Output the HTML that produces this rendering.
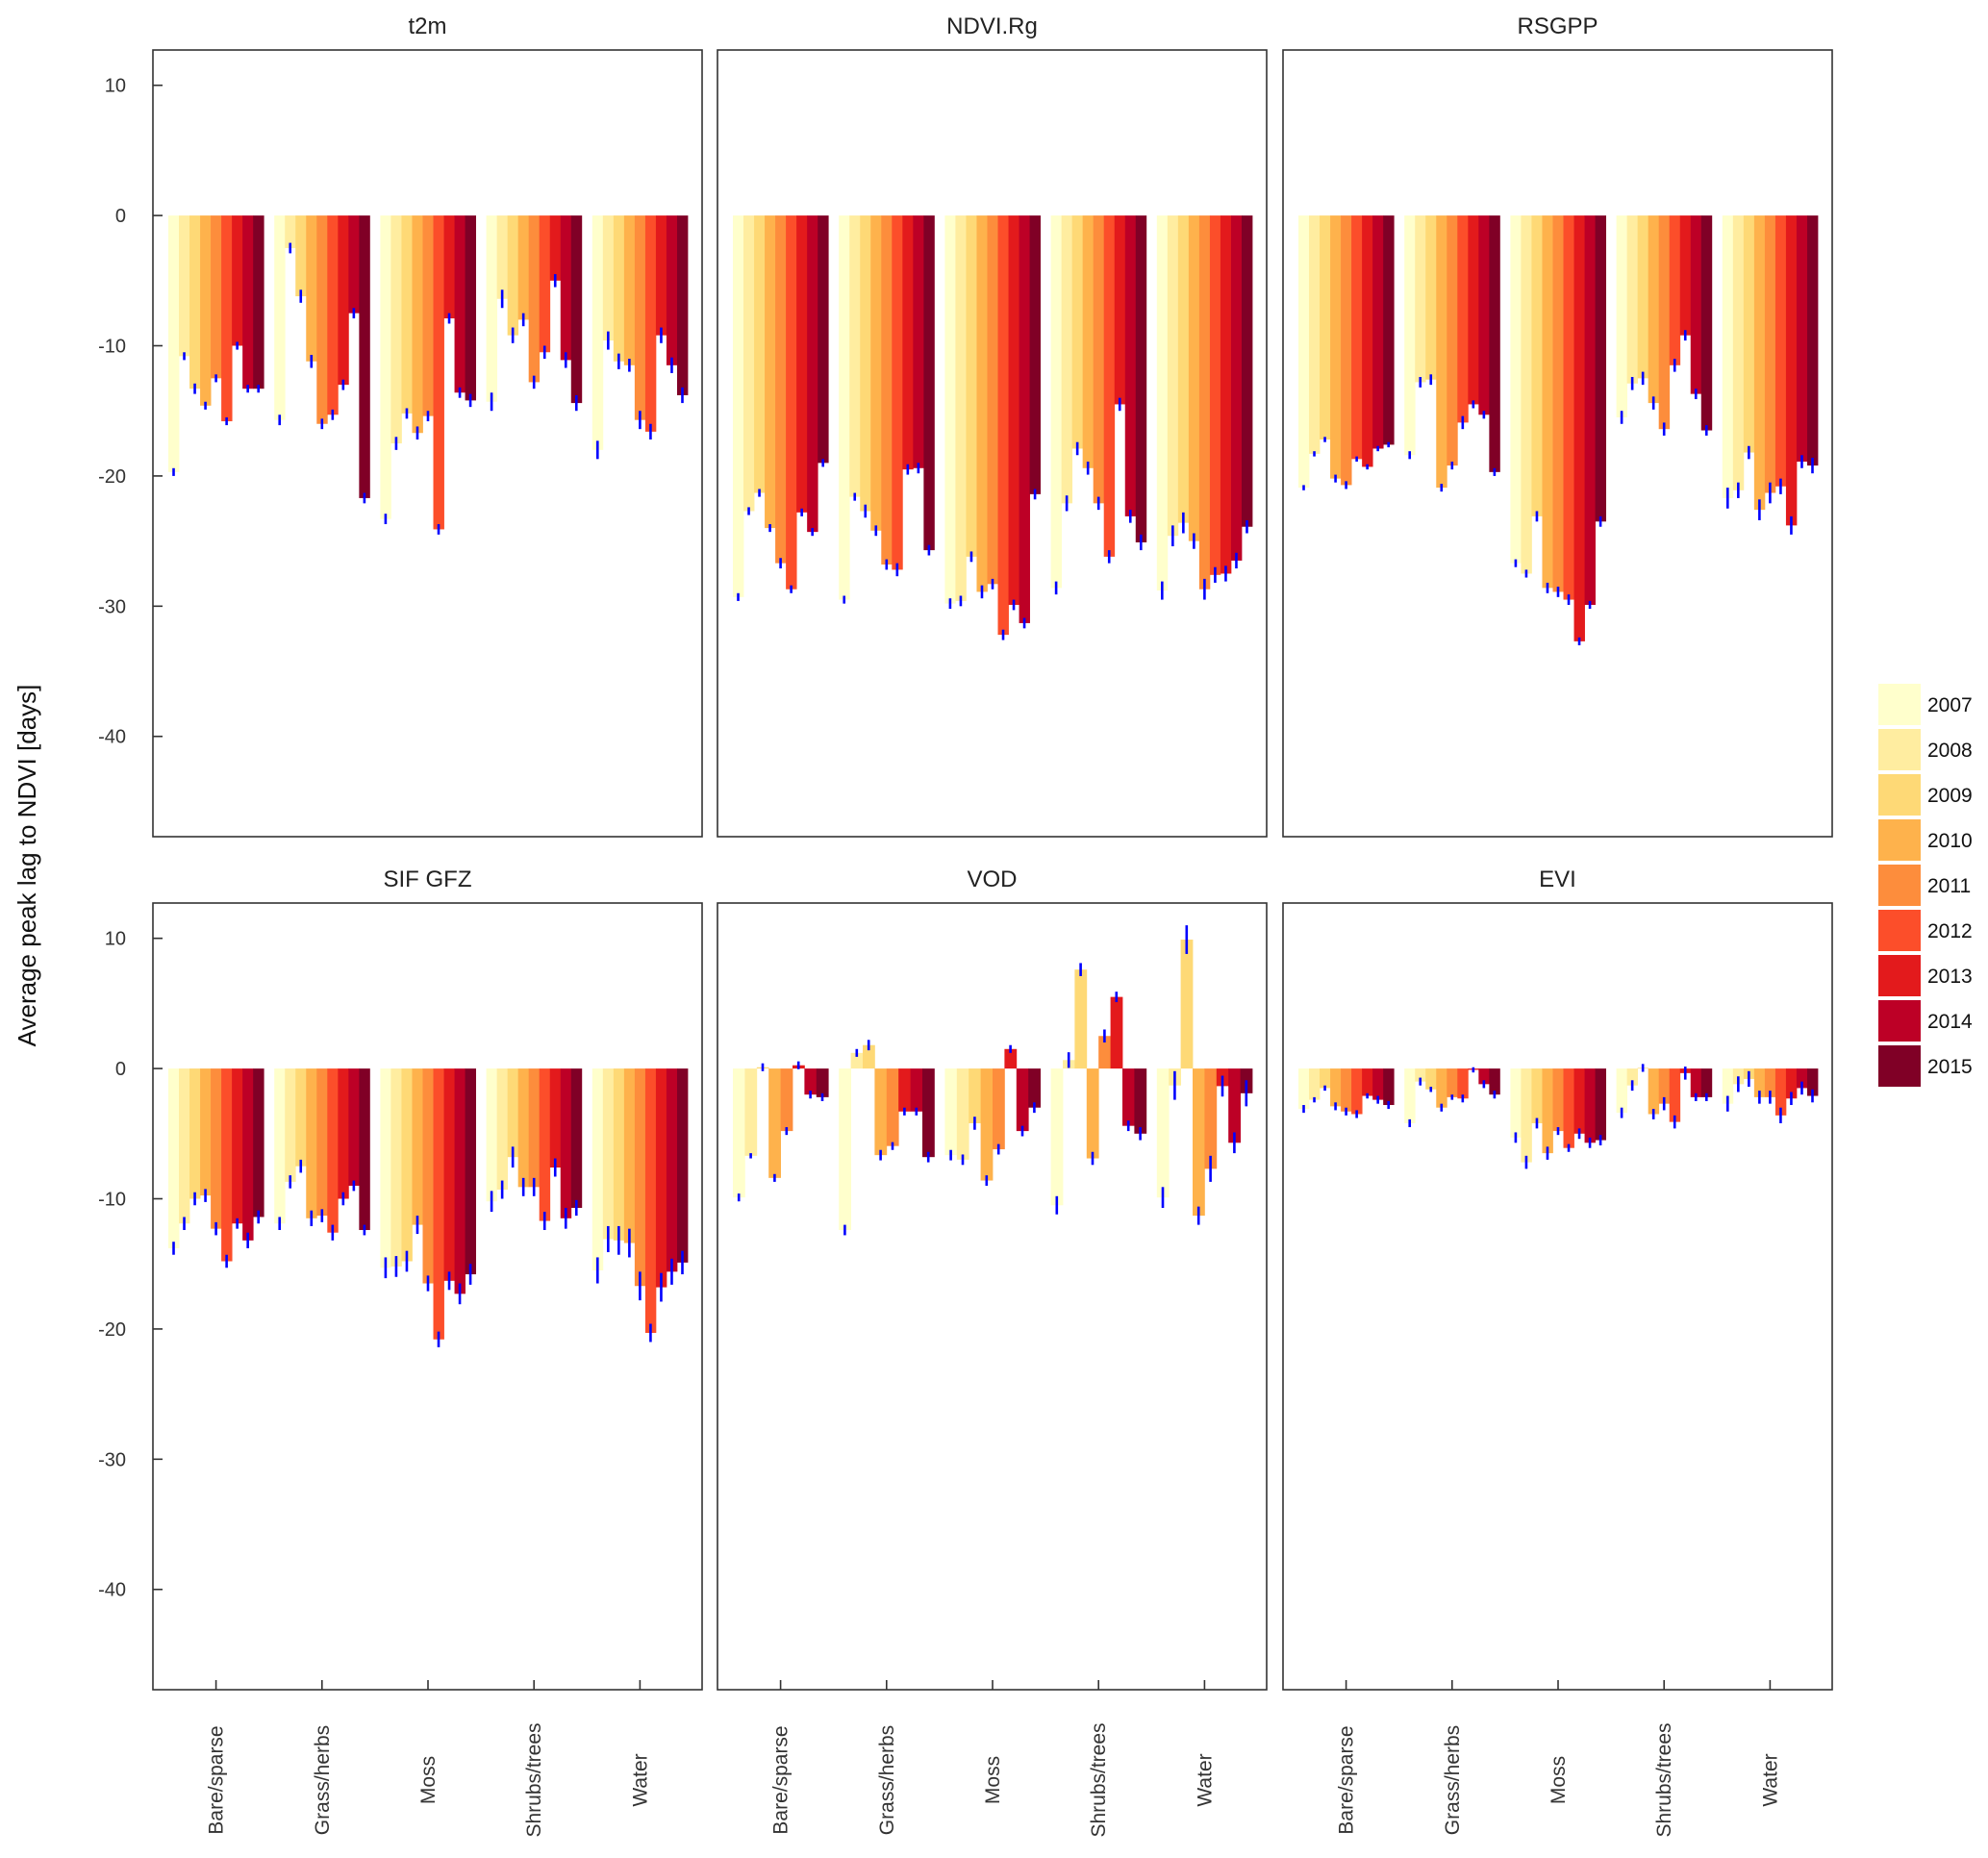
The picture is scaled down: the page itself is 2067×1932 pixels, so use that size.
<!DOCTYPE html>
<html><head><meta charset="utf-8"><style>
html,body{margin:0;padding:0;background:#fff;}
svg{display:block;font-family:"Liberation Sans",Arial,sans-serif;}
</style></head><body>
<svg id="chart" width="2067" height="1932" viewBox="0 0 2067 1932" xmlns="http://www.w3.org/2000/svg"></svg>
<script>
const categories = ["Bare/sparse","Grass/herbs","Moss","Shrubs/trees","Water"];
const years = ["2007","2008","2009","2010","2011","2012","2013","2014","2015"];
const yTicks = [10,0,-10,-20,-30,-40];
const panelTitles = ["t2m","NDVI.Rg","RSGPP","SIF GFZ","VOD","EVI"];

const t2mVals = [-19.7,-10.8,-13.3,-14.6,-12.5,-15.8,-10.0,-13.3,-13.3,
 -15.7,-2.5,-6.2,-11.2,-16.0,-15.3,-13.0,-7.5,-21.7,
 -23.3,-17.5,-15.2,-16.7,-15.4,-24.1,-7.9,-13.6,-14.2,
 -14.3,-6.4,-9.2,-8.0,-12.8,-10.5,-5.0,-11.1,-14.4,
 -18.0,-9.6,-11.2,-11.5,-15.7,-16.6,-9.2,-11.5,-13.8];
const t2mErr = [0.3,0.3,0.4,0.3,0.3,0.3,0.3,0.3,0.3, 0.4,0.4,0.5,0.5,0.4,0.4,0.4,0.4,0.4,
 0.4,0.5,0.4,0.5,0.4,0.4,0.4,0.4,0.5, 0.7,0.7,0.6,0.5,0.5,0.5,0.5,0.6,0.6,
 0.7,0.7,0.6,0.5,0.7,0.6,0.6,0.6,0.6];

const ndviVals = [-29.3,-22.7,-21.3,-24.0,-26.7,-28.7,-22.8,-24.3,-19.0,
 -29.5,-21.6,-22.7,-24.2,-26.8,-27.2,-19.5,-19.4,-25.7,
 -29.8,-29.6,-26.2,-28.9,-28.3,-32.2,-29.9,-31.3,-21.4,
 -28.6,-22.1,-17.9,-19.4,-22.1,-26.2,-14.5,-23.1,-25.1,
 -28.8,-24.6,-23.6,-25.0,-28.7,-27.6,-27.5,-26.5,-23.9];
const ndviErr = [0.3,0.3,0.3,0.3,0.4,0.3,0.3,0.3,0.3, 0.3,0.3,0.5,0.4,0.4,0.5,0.4,0.4,0.4,
 0.4,0.4,0.4,0.5,0.4,0.4,0.4,0.4,0.4, 0.5,0.6,0.5,0.5,0.5,0.5,0.5,0.5,0.6,
 0.7,0.8,0.8,0.6,0.8,0.6,0.6,0.6,0.5];

const rsgppVals = [-20.9,-18.3,-17.2,-20.2,-20.7,-18.7,-19.3,-17.9,-17.6,
 -18.4,-12.8,-12.6,-20.9,-19.2,-15.9,-14.5,-15.3,-19.7,
 -26.7,-27.5,-23.1,-28.6,-28.9,-29.5,-32.7,-29.9,-23.5,
 -15.5,-12.9,-12.5,-14.4,-16.4,-11.5,-9.2,-13.7,-16.5,
 -21.7,-21.1,-18.2,-22.6,-21.3,-20.8,-23.8,-18.9,-19.2];
const rsgppErr = [0.2,0.2,0.2,0.3,0.3,0.2,0.2,0.2,0.2, 0.3,0.4,0.4,0.3,0.3,0.5,0.3,0.3,0.3,
 0.3,0.3,0.4,0.4,0.4,0.4,0.3,0.3,0.4, 0.5,0.5,0.5,0.5,0.5,0.5,0.4,0.4,0.4,
 0.8,0.6,0.5,0.8,0.8,0.6,0.7,0.5,0.6];

const sifVals = [-13.8,-11.9,-10.0,-9.75,-12.3,-14.8,-11.9,-13.2,-11.4,
 -11.9,-8.7,-7.5,-11.5,-11.3,-12.6,-10.0,-9.0,-12.4,
 -15.3,-15.2,-14.8,-12.0,-16.5,-20.8,-16.3,-17.3,-15.8,
 -10.2,-9.3,-6.8,-9.1,-9.1,-11.7,-7.6,-11.5,-10.7,
 -15.5,-13.1,-13.2,-13.4,-16.7,-20.3,-16.8,-15.6,-14.9];
const sifErr = [0.5,0.5,0.5,0.5,0.5,0.5,0.4,0.6,0.5, 0.5,0.5,0.5,0.6,0.5,0.6,0.5,0.4,0.4,
 0.8,0.8,0.8,0.7,0.6,0.6,0.7,0.8,0.8, 0.8,0.7,0.8,0.7,0.7,0.7,0.7,0.8,0.6,
 1.0,1.0,1.1,1.1,1.1,0.7,1.1,1.0,0.9];

const vodVals = [-9.9,-6.7,0.1,-8.4,-4.8,0.25,-2.0,-2.2,
 -12.4,1.2,1.8,-6.65,-5.95,-3.3,-3.3,-6.8,
 -6.65,-7.0,-4.2,-8.6,-6.2,1.5,-4.8,-3.0,
 -10.5,0.65,7.6,-6.9,2.5,5.5,-4.4,-5.0,
 -9.9,-1.3,9.9,-11.3,-7.7,-1.35,-5.7,-1.9];
const vodErr = [0.3,0.2,0.3,0.3,0.3,0.3,0.3,0.3, 0.4,0.3,0.4,0.4,0.3,0.3,0.3,0.4,
 0.4,0.4,0.5,0.4,0.4,0.3,0.4,0.4, 0.7,0.6,0.5,0.5,0.5,0.4,0.4,0.5,
 0.8,1.1,1.1,0.7,1.0,0.8,0.8,1.0];

const eviVals = [-3.1,-2.4,-1.5,-2.9,-3.3,-3.5,-2.1,-2.4,-2.8,
 -4.2,-1.0,-1.6,-3.0,-2.2,-2.3,-0.1,-1.2,-2.0,
 -5.3,-7.2,-4.2,-6.5,-4.8,-6.1,-5.0,-5.7,-5.5,
 -3.4,-1.3,0.05,-3.5,-2.7,-4.1,-0.35,-2.2,-2.2,
 -2.7,-1.2,-0.8,-2.2,-2.2,-3.6,-2.3,-1.5,-2.1];
const eviErr = [0.3,0.2,0.2,0.3,0.3,0.3,0.2,0.3,0.3, 0.3,0.3,0.2,0.3,0.2,0.3,0.2,0.3,0.3,
 0.4,0.5,0.4,0.5,0.3,0.3,0.4,0.4,0.4, 0.4,0.4,0.3,0.4,0.5,0.5,0.5,0.3,0.3,
 0.6,0.6,0.6,0.5,0.5,0.6,0.5,0.5,0.5];

const colors9 = ["#ffffcc","#ffeda0","#fed976","#feb24c","#fd8d3c","#fc4e2a","#e31a1c","#bd0026","#800026"];
const colors8 = ["#ffffcc","#ffeda0","#fed976","#feb24c","#fd8d3c","#e31a1c","#bd0026","#800026"];

const panelVals = [t2mVals,ndviVals,rsgppVals,sifVals,vodVals,eviVals];
const panelErrs = [t2mErr,ndviErr,rsgppErr,sifErr,vodErr,eviErr];

const NS = "http://www.w3.org/2000/svg";
const svg = document.getElementById("chart");
function mk(tag, attrs, parent){
  const e = document.createElementNS(NS, tag);
  for (const k in attrs) e.setAttribute(k, attrs[k]);
  (parent||svg).appendChild(e);
  return e;
}
const PX = [159, 746, 1334], PW = 571;
const PY = [52, 939], PH = 818;
const YMAX = 12.71, YMIN = -47.7;
function yScale(v, row){ return PY[row] + (YMAX - v) / (YMAX - YMIN) * PH; }
const G0 = 16, GSTEP = 110.2, GW = 99.2;
function xGroup(g){ return G0 + g * GSTEP; }

for (let p = 0; p < 6; p++){
  const row = Math.floor(p/3), col = p%3;
  const x0 = PX[col], y0 = PY[row];
  const g = mk("g", {});
  
  
  const t = mk("text", {x: x0 + PW/2, y: y0 - 17, "text-anchor":"middle", "font-size":"24", fill:"#222"}, g);
  t.textContent = panelTitles[p];
  
  

  const vals = panelVals[p], errs = panelErrs[p];
  const n = vals.length / categories.length;
  const cols = n === 8 ? colors8 : colors9;
  const bw = GW / n;
  const zero = yScale(0, row);
  for (let c = 0; c < categories.length; c++){
    for (let i = 0; i < n; i++){
      const v = vals[c*n + i];
      const bx = x0 + xGroup(c) + i*bw;
      const yv = yScale(v, row);
      const r = mk("rect", {x: bx, y: Math.min(yv, zero), width: bw + 0.4, height: Math.abs(yv - zero), fill: cols[i]}, g);
      
      
    }
  }
  for (let c = 0; c < categories.length; c++){
    for (let i = 0; i < n; i++){
      const v = vals[c*n + i], e = errs[c*n + i];
      const cx = x0 + xGroup(c) + (i+0.5)*bw;
      const l = mk("line", {x1: cx, x2: cx, y1: yScale(v+e,row), y2: yScale(v-e,row), stroke:"#0000ff", "stroke-width":"2.6"}, g);
      
      
    }
  }
  const fr = mk("rect", {x: x0, y: y0, width: PW, height: PH, fill:"none", stroke:"#333", "stroke-width":"1.6"}, g);
  
  
  if (col === 0){
    for (const tv of yTicks){
      const ty = yScale(tv, row);
      mk("line", {x1: x0, x2: x0+10, y1: ty, y2: ty, stroke:"#333", "stroke-width":"1.6"}, g);
      const tl = mk("text", {x: x0 - 28, y: ty + 7, "text-anchor":"end", "font-size":"20", fill:"#333"}, g);
      tl.textContent = tv;
      
      
    }
  }
  if (row === 1){
    for (let c = 0; c < categories.length; c++){
      const cx = x0 + xGroup(c) + GW/2;
      mk("line", {x1: cx, x2: cx, y1: y0+PH, y2: y0+PH-10, stroke:"#333", "stroke-width":"1.6"}, g);
      const xl = mk("text", {x: 0, y: 0, transform: "translate(" + (cx + 7) + ",1851) rotate(-90)", "text-anchor":"middle", "font-size":"21", fill:"#333"}, g);
      xl.textContent = categories[c];
      
      
    }
  }
}
const yt = mk("text", {x:0, y:0, transform:"translate(37,900) rotate(-90)", "text-anchor":"middle", "font-size":"26", fill:"#111"});
yt.textContent = "Average peak lag to NDVI [days]";



const lg = mk("g", {});


for (let i = 0; i < years.length; i++){
  const ly = 711 + i*47;
  const sw = mk("rect", {x:1953, y: ly, width: 44, height: 43, fill: colors9[i]}, lg);
  
  
  const lt = mk("text", {x: 2004, y: ly + 29, "font-size":"21", fill:"#111"}, lg);
  lt.textContent = years[i];
  
  
}
</script>
</body></html>
